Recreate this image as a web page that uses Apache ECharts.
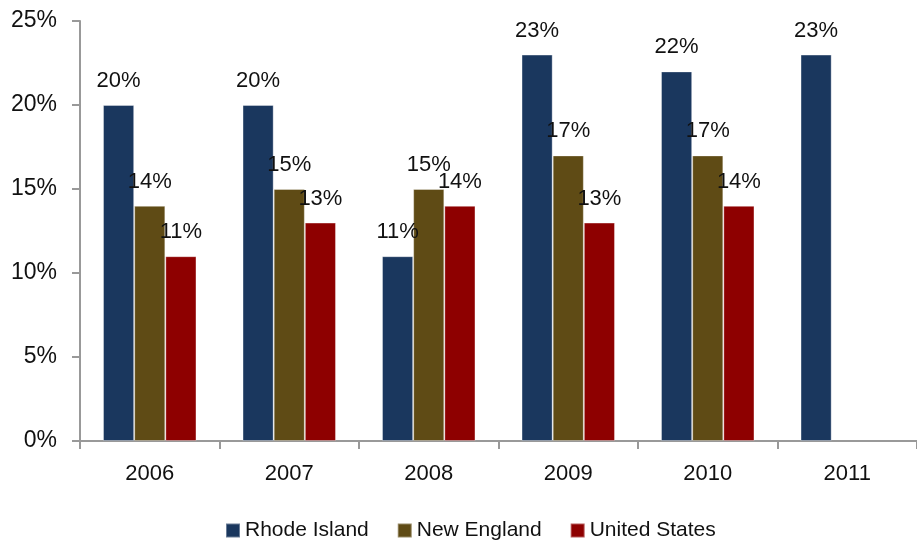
<!DOCTYPE html>
<html>
<head>
<meta charset="utf-8">
<script src="https://cdn.jsdelivr.net/npm/echarts@6/dist/echarts.min.js"></script>
<style>
  html, body { margin: 0; padding: 0; background: #fff; }
  #chart { width: 917px; height: 542px; }
</style>
</head>
<body>
<div id="chart"></div>
<script>
const years = ['2006', '2007', '2008', '2009', '2010', '2011']
const rhodeIsland = [20, 20, 11, 23, 22, 23]
const newEngland = [14, 15, 15, 17, 17, null]
const unitedStates = [11, 13, 14, 13, 14, null]

const FONT = '"Liberation Sans Narrow", "Arial Narrow", "Liberation Sans", sans-serif'

const label = {
  show: true,
  position: 'top',
  distance: 13,
  formatter: '{c}%',
  color: '#111',
  fontFamily: FONT,
  fontSize: 22
}

const mkSeries = (name, data, color) => ({
  name,
  type: 'bar',
  data,
  barGap: 0,
  barCategoryGap: '33%',
  itemStyle: { color, borderColor: 'rgba(255,255,255,0.35)', borderWidth: 1 },
  label
})

const chart = echarts.init(document.getElementById('chart'))
chart.setOption({
  animation: false,
  textStyle: { fontFamily: FONT },
  grid: { left: 80, right: -8, top: 21, bottom: 101 },
  legend: {
    top: 515,
    left: 220,
    itemWidth: 14,
    itemHeight: 14,
    itemGap: 28,
    icon: 'rect',
    textStyle: { fontFamily: FONT, fontSize: 21, color: '#111' },
    data: ['Rhode Island', 'New England', 'United States']
  },
  xAxis: {
    type: 'category',
    data: years,
    axisLine: { lineStyle: { color: '#999', width: 2 } },
    axisTick: { show: true, length: 8, lineStyle: { color: '#999', width: 2 } },
    axisLabel: { fontFamily: FONT, fontSize: 22, color: '#111', margin: 22 }
  },
  yAxis: {
    type: 'value',
    min: 0,
    max: 25,
    interval: 5,
    splitLine: { show: false },
    axisLine: { show: true, lineStyle: { color: '#999', width: 2 } },
    axisTick: { show: true, length: 8, lineStyle: { color: '#999', width: 2 } },
    axisLabel: { fontFamily: FONT, fontSize: 23, color: '#111', margin: 23, formatter: '{value}%' }
  },
  series: [
    mkSeries('Rhode Island', rhodeIsland, '#1a375e'),
    mkSeries('New England', newEngland, '#5f4b15'),
    mkSeries('United States', unitedStates, '#8e0000')
  ]
})
</script>
</body>
</html>
